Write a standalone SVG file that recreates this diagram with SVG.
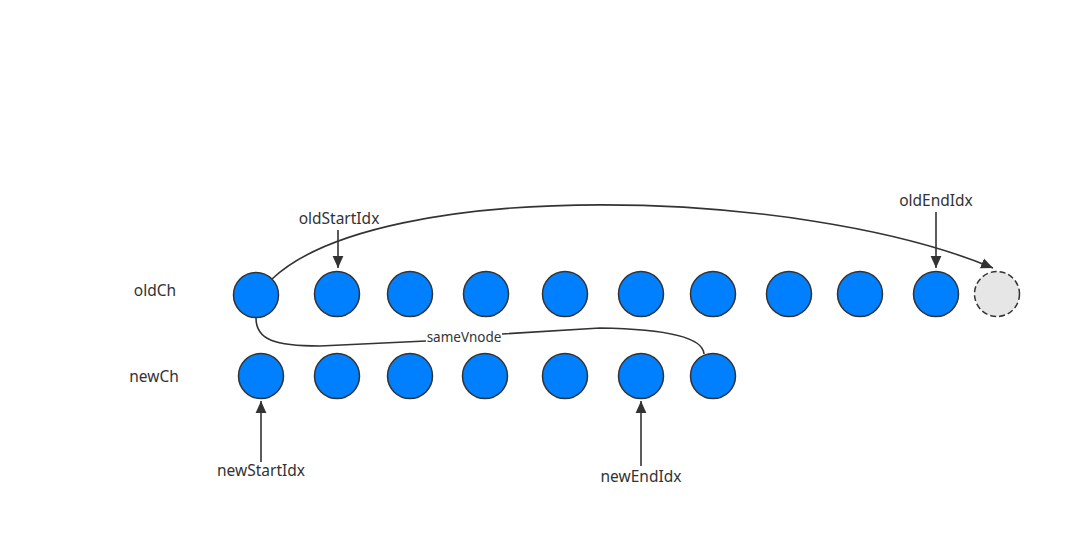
<svg xmlns="http://www.w3.org/2000/svg" width="1081" height="548" viewBox="0 0 1081 548">
<defs>
<marker id="ah2" viewBox="0 0 10 10" refX="10" refY="5" markerWidth="12" markerHeight="12" markerUnits="userSpaceOnUse" orient="auto">
<path d="M0,0.5 L10,5 L0,9.5 Z" fill="#333"/>
</marker>
<style>
.n{fill:#007fff;stroke:#333;stroke-width:1.5}
.d{fill:#e6e6e6;stroke:#333;stroke-width:1.5;stroke-dasharray:6 3}
.t{font-family:"Noto Sans","DejaVu Sans",sans-serif;font-size:15.5px;fill:#333;text-anchor:middle}
.s{font-family:"Noto Sans","DejaVu Sans",sans-serif;font-size:13.5px;fill:#333;text-anchor:middle}
.e{fill:none;stroke:#333;stroke-width:1.6}
</style>
</defs>
<rect width="1081" height="548" fill="#fff"/>
<g id="labels">
<text class="t" x="155" y="296">oldCh</text>
<text class="t" x="154" y="382">newCh</text>
<text class="t" x="339" y="224">oldStartIdx</text>
<text class="t" x="936" y="206">oldEndIdx</text>
<text class="t" x="261" y="476">newStartIdx</text>
<text class="t" x="641" y="482">newEndIdx</text>
</g>
<g id="connectors">
<path class="e" d="M272,279 C380,177 800,187 993,268" marker-end="url(#ah2)"/>
<path class="e" d="M338,230 L338,268" marker-end="url(#ah2)"/>
<path class="e" d="M936,212 L936,268" marker-end="url(#ah2)"/>
<path class="e" d="M261,462 L261,401" marker-end="url(#ah2)"/>
<path class="e" d="M641,466 L641,401" marker-end="url(#ah2)"/>
<path class="e" d="M256,318 C256,340 275,346 320,346 L426,341"/>
<path class="e" d="M502,334 L600,328 C660,329 703,336 704,354"/>
<text class="s" x="464" y="342">sameVnode</text>
</g>
<g id="old">
<circle id="o1" class="n" cx="256" cy="295" r="22.5"/>
<circle id="o2" class="n" cx="337" cy="294" r="22.5"/>
<circle id="o3" class="n" cx="410" cy="294" r="22.5"/>
<circle id="o4" class="n" cx="486" cy="294" r="22.5"/>
<circle id="o5" class="n" cx="565" cy="294" r="22.5"/>
<circle id="o6" class="n" cx="641" cy="294" r="22.5"/>
<circle id="o7" class="n" cx="713" cy="294" r="22.5"/>
<circle id="o8" class="n" cx="789" cy="294" r="22.5"/>
<circle id="o9" class="n" cx="860" cy="294" r="22.5"/>
<circle id="o10" class="n" cx="936" cy="294" r="22.5"/>
<circle id="o11" class="d" cx="997" cy="294" r="22.5"/>
</g>
<g id="new">
<circle id="n1" class="n" cx="261" cy="376" r="22.5"/>
<circle id="n2" class="n" cx="337" cy="376" r="22.5"/>
<circle id="n3" class="n" cx="410" cy="376" r="22.5"/>
<circle id="n4" class="n" cx="485" cy="376" r="22.5"/>
<circle id="n5" class="n" cx="565" cy="376" r="22.5"/>
<circle id="n6" class="n" cx="641" cy="376" r="22.5"/>
<circle id="n7" class="n" cx="713" cy="376" r="22.5"/>
</g>
</svg>
